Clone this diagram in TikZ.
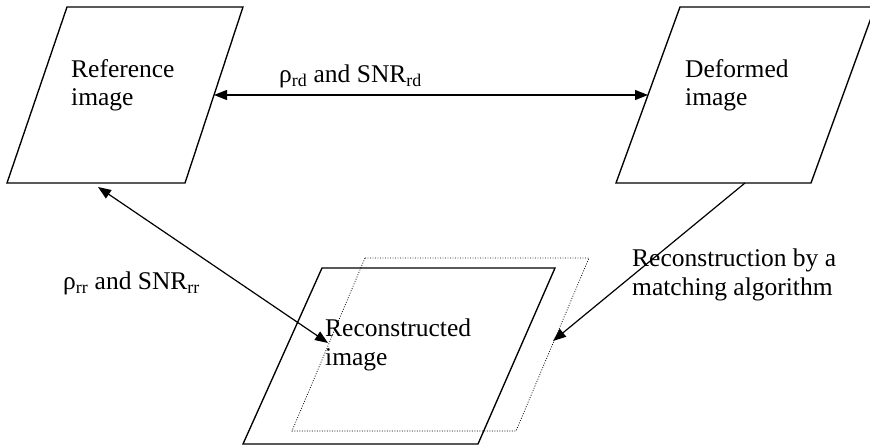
\documentclass[tikz,border=0pt]{standalone}
\usepackage{fontspec}
\setmainfont{Liberation Serif}
\usetikzlibrary{arrows.meta,calc}
\tikzset{
  frame/.style={line width=1.35pt, line join=miter},
  ghost/.style={line width=0.75pt, dash pattern=on 0.9pt off 1.6pt},
  head/.tip={Triangle[length=13pt,width=10pt]},
  twoway/.style={line width=1.2pt, {head}-{head}},
  oneway/.style={line width=1.2pt, -{head}},
  lbl/.style={font=\fontsize{25.5}{28.5}\selectfont, inner sep=0pt, anchor=base west, align=left}
}
\begin{document}
\begin{tikzpicture}[x=1pt,y=-1pt]
  % canvas
  \useasboundingbox (0,0) rectangle (870,446);
  \clip (0,0) rectangle (870,446);

  % corner points of the three image frames
  \coordinate (r1) at (67,7);   \coordinate (r2) at (243,7);
  \coordinate (r3) at (185,183); \coordinate (r4) at (7,183);
  \coordinate (d1) at (680,7);  \coordinate (d2) at (875,7);
  \coordinate (d3) at (811,183); \coordinate (d4) at (616,183);
  \coordinate (c1) at (322,268); \coordinate (c2) at (555,268);
  \coordinate (c3) at (478,444); \coordinate (c4) at (243,444);
  \coordinate (g1) at (365,258); \coordinate (g2) at (589,258);
  \coordinate (g3) at (516,431); \coordinate (g4) at (292,431);

  \draw[frame] (r1) -- (r2) -- (r3) -- (r4) -- cycle;
  \draw[frame] (d1) -- (d2) -- (d3) -- (d4) -- cycle;
  \draw[frame] (c1) -- (c2) -- (c3) -- (c4) -- cycle;
  \draw[ghost] (g1) -- (g2) -- (g3) -- (g4) -- cycle;

  % frame captions (anchored on the baseline of the last line)
  \node[lbl] (reftxt) at (71,106) {Reference\\image};
  \node[lbl] (deftxt) at (685,106) {Deformed\\image};
  \node[lbl] (rectxt) at (325,365) {Reconstructed\\image};

  % connector end points on the frame edges
  \coordinate (refR) at ($(r2)!0.5!(r3)$);
  \coordinate (defL) at ($(d1)!0.5!(d4)$);
  \coordinate (refB) at (98,187);
  \coordinate (ghL) at (328,343);
  \coordinate (defB) at (745,183);
  \coordinate (ghR) at (553,341);

  \draw[twoway] (refR) -- (defL);
  \draw[twoway] (refB) -- (ghL);
  \draw[oneway] (defB) -- (ghR);

  % connector labels
  \node[lbl] (rdtxt) at (279,83) {ρ\textsubscript{rd} and SNR\textsubscript{rd}};
  \node[lbl] (rrtxt) at (63,290) {ρ\textsubscript{rr} and SNR\textsubscript{rr}};
  \node[lbl] (algtxt) at (632,295) {Reconstruction by a\\matching algorithm};
\end{tikzpicture}
\end{document}
